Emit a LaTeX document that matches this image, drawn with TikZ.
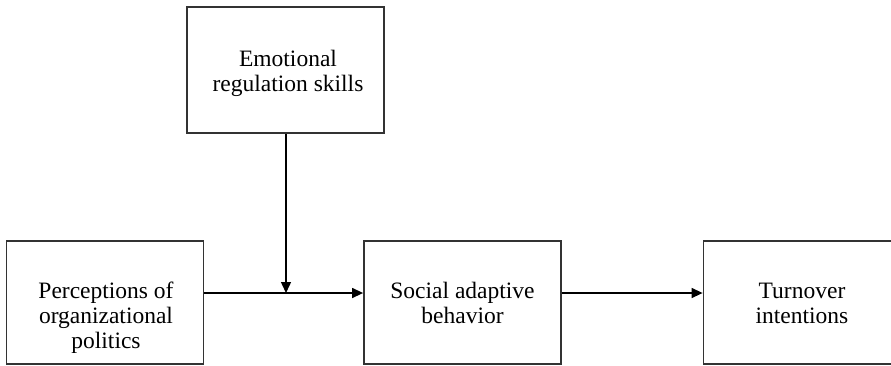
\documentclass[tikz,border=0pt]{standalone}
\usepackage{fontspec}
\setmainfont{Liberation Serif}
\usetikzlibrary{arrows.meta}
\begin{document}
\begin{tikzpicture}[x=1pt,y=-1pt,
  box/.style={draw=black!80, line width=1.8pt, minimum width=197pt, minimum height=123pt, inner sep=0pt},
  ebox/.style={draw=black!80, line width=1.8pt, minimum width=197pt, minimum height=126pt, inner sep=0pt},
  txt/.style={align=center, inner sep=0pt, font=\fontsize{23.5pt}{25pt}\selectfont},
  conn/.style={draw=black, line width=1.4pt, -{Triangle[length=11pt,width=10pt]}}]
\useasboundingbox (0,0) rectangle (891,365);
\clip (0,0) rectangle (891,365);
\node[ebox] (er) at (285.5,70) {};
\node[box] (pop) at (105,302.5) {};
\node[box] (sab) at (462.5,302.5) {};
\node[box] (ti) at (802,302.5) {};
\node[txt] (ert) at (288,73) {Emotional\\regulation skills};
\node[txt] (popt) at (106,318) {Perceptions of\\organizational\\politics};
\node[txt] (sabt) at (462.5,302.5) {Social adaptive\\behavior};
\node[txt] (tit) at (802,303) {Turnover\\intentions};
\coordinate (j) at (286,293);
\draw[conn] (pop.east |- j) -- (sab.west |- j);
\draw[conn] (sab.east |- j) -- (ti.west |- j);
\draw[conn] (j |- er.south) -- (j);
\end{tikzpicture}
\end{document}
